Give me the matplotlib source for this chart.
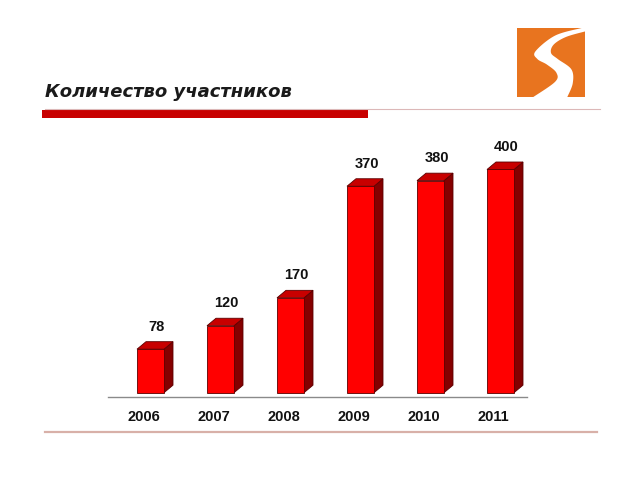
import matplotlib
matplotlib.use("Agg")
import matplotlib.pyplot as plt
import numpy as np
from matplotlib.patches import Polygon, Rectangle
from matplotlib.lines import Line2D
import matplotlib.transforms as mtransforms

years = ["2006", "2007", "2008", "2009", "2010", "2011"]
values = [78, 120, 170, 370, 380, 400]
title = "Количество участников"

W, H = 640, 480
fig = plt.figure(figsize=(6.4, 4.8), dpi=100)
fig.patch.set_facecolor("white")

def fx(px):
    return px / W

def fy(py):
    return 1 - py / H

# main axes
ax_l, ax_r, ax_t, ax_b = 108, 527, 130, 397
ax = fig.add_axes([fx(ax_l), fy(ax_b), (ax_r - ax_l) / W, (ax_b - ax_t) / H])
x0_px, step_px = 150.5, 70.0
xlim = ((ax_l - x0_px) / step_px, (ax_r - x0_px) / step_px)
ppu = 0.558  # pixels per value unit
base_px = 392.7
ylim = (-(ax_b - base_px) / ppu, (base_px - ax_t) / ppu)
ax.set_xlim(*xlim)
ax.set_ylim(*ylim)

for s in ["top", "right", "left"]:
    ax.spines[s].set_visible(False)
ax.spines["bottom"].set_color("#8a8a8a")
ax.spines["bottom"].set_linewidth(1.0)
ax.set_yticks([])

w = 27 / step_px
dx = 9 / step_px
dy = 7.5 / ppu
front_c, top_c, side_c, edge_c = "#FF0000", "#C80000", "#850000", "#5a0000"

for i, v in enumerate(values):
    xa, xb = i - w / 2, i + w / 2
    ax.add_patch(Polygon([(xb, 0), (xb + dx, dy), (xb + dx, v + dy), (xb, v)],
                         closed=True, facecolor=side_c, edgecolor=edge_c, lw=0.6, zorder=2))
    ax.add_patch(Polygon([(xa, v), (xa + dx, v + dy), (xb + dx, v + dy), (xb, v)],
                         closed=True, facecolor=top_c, edgecolor=edge_c, lw=0.6, zorder=2))
    ax.add_patch(Rectangle((xa, 0), w, v, facecolor=front_c, edgecolor=edge_c, lw=0.6, zorder=3))
    ax.annotate(str(v), xy=(i, v), xytext=(6, 7.5 + 15), textcoords="offset pixels",
                ha="center", va="center", fontsize=10.5, family="Liberation Sans",
                fontweight="bold", color="#111111")

ax.set_xticks(range(len(years)))
ax.set_xticklabels(years, fontsize=10.5, family="Liberation Sans", fontweight="bold",
                   color="#111111")
ax.tick_params(axis="x", length=0, pad=9.5)
off = mtransforms.ScaledTranslation(-7 / 100, 0, fig.dpi_scale_trans)
for lbl in ax.get_xticklabels():
    lbl.set_transform(lbl.get_transform() + off)

# header
fig.add_artist(Line2D([fx(45), fx(600)], [fy(109), fy(109)], color="#dcb8b8", lw=0.8))
fig.add_artist(Rectangle((fx(42), fy(117.7)), (368 - 42) / W, 7.7 / H,
                         facecolor="#C80000", edgecolor="none"))
fig.text(fx(45), fy(92), title, fontsize=13, fontweight="bold", fontstyle="italic",
         family="DejaVu Sans", color="#1a1a1a", ha="left", va="center")

# bottom line
fig.add_artist(Line2D([fx(45), fx(597)], [fy(432), fy(432)], color="#d8b0a8", lw=1.6))

# logo
def catmull(pts, n=12):
    pts = np.asarray(pts, float)
    p = np.vstack([pts[0], pts, pts[-1]])
    out = []
    for k in range(1, len(p) - 2):
        p0, p1, p2, p3 = p[k - 1], p[k], p[k + 1], p[k + 2]
        for t in np.linspace(0, 1, n, endpoint=False):
            t2, t3 = t * t, t * t * t
            out.append(0.5 * ((2 * p1) + (-p0 + p2) * t + (2 * p0 - 5 * p1 + 4 * p2 - p3) * t2
                              + (-p0 + 3 * p1 - 3 * p2 + p3) * t3))
    out.append(p[-2])
    return np.array(out)

lax = fig.add_axes([fx(517), fy(97), 68 / W, 69 / H])
lax.set_xlim(0, 1)
lax.set_ylim(0, 1)
lax.axis("off")
lax.add_patch(Rectangle((0, 0), 1, 1, facecolor="#E8741F", edgecolor="none"))
left_edge = [(0.95, 1.0), (0.56, 0.89), (0.27, 0.66), (0.30, 0.55), (0.44, 0.47),
             (0.58, 0.35), (0.56, 0.22), (0.24, 0.0)]
right_edge = [(0.74, 0.0), (0.82, 0.20), (0.80, 0.40), (0.60, 0.55), (0.50, 0.64),
              (0.54, 0.76), (0.72, 0.87), (1.0, 0.95)]
shape = np.vstack([catmull(left_edge), catmull(right_edge), [(1.0, 1.0)]])
lax.add_patch(Polygon(shape, closed=True, facecolor="white", edgecolor="none", clip_on=True))

fig.savefig("out.png", dpi=100)
